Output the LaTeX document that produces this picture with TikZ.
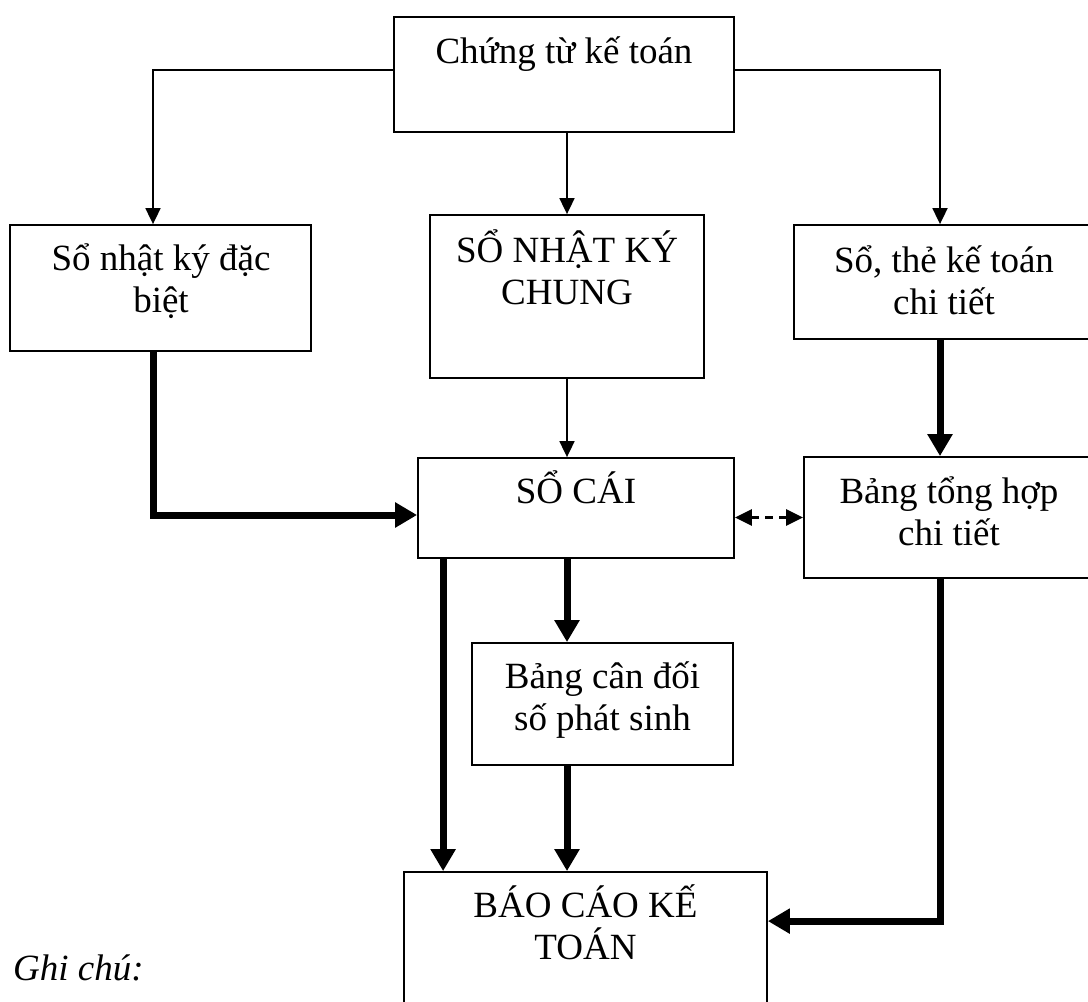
\documentclass[tikz,border=0pt]{standalone}
\usepackage{fontspec}
\setmainfont{Liberation Serif}
\usetikzlibrary{arrows.meta,calc}
\begin{document}
\begin{tikzpicture}[x=1pt,y=-1pt,
  box/.style={draw, line width=1.8pt, inner sep=0pt},
  txt/.style={anchor=base, inner sep=0pt, text width=330pt, align=flush center,
              font=\fontsize{37}{42}\selectfont},
  thinarrow/.style={line width=1.8pt, -{Triangle[length=16pt,width=15pt]}},
  heavyarrow/.style={line width=7pt, -{Triangle[length=22pt,width=24pt]}},
  duplex/.style={line width=2.6pt, dash pattern=on 8pt off 6pt,
                 {Triangle[length=17pt,width=16pt]}-{Triangle[length=17pt,width=16pt]}}
]
\useasboundingbox (0,0) rectangle (1088,1002);
\clip (0,0) rectangle (1088,1002);

% boxes
\node[box, minimum width=340pt, minimum height=115pt] (top)   at (564,74.5) {};
\node[box, minimum width=301pt, minimum height=126pt] (lsk)   at (160.5,288) {};
\node[box, minimum width=274pt, minimum height=163pt] (nkc)   at (567,296.5) {};
\node[box, minimum width=300pt, minimum height=114pt] (stk)   at (944,282) {};
\node[box, minimum width=290pt, minimum height=121pt] (bth)   at (949,517.5) {};
\node[box, minimum width=316pt, minimum height=100pt] (socai) at (576,508) {};
\node[box, minimum width=261pt, minimum height=122pt] (bcd)   at (602.5,704) {};
\node[box, minimum width=363pt, minimum height=150pt] (bc)    at (585.5,947) {};

% texts
\node[txt] (tTop)   at (564,63)    {Chứng từ kế toán};
\node[txt] (tLsk)   at (161,270)   {Sổ nhật ký đặc\\biệt};
\node[txt] (tNkc)   at (567,262)   {SỔ NHẬT KÝ\\CHUNG};
\node[txt] (tStk)   at (944,272)   {Sổ, thẻ kế toán\\chi tiết};
\node[txt] (tSocai) at (576,503)   {SỔ CÁI};
\node[txt] (tBth)   at (949,503)   {Bảng tổng hợp\\chi tiết};
\node[txt] (tBcd)   at (602.5,688) {Bảng cân đối\\số phát sinh};
\node[txt] (tBc)    at (585.5,917) {BÁO CÁO KẾ\\TOÁN};
\node[anchor=base west, inner sep=0pt, font=\fontsize{37}{42}\selectfont\itshape]
  (note) at (13,980) {Ghi chú:};

% helper points
\coordinate (lskOut) at ([xshift=-7.5pt]lsk.south);
\coordinate (lskIn)  at ([xshift=-7.5pt]lsk.north);
\coordinate (topL)   at ([yshift=4.5pt]top.west);
\coordinate (topR)   at ([yshift=4.5pt]top.east);
\coordinate (stkIn)  at ([xshift=-4pt]stk.north);
\coordinate (stkOut) at ([xshift=-4pt]stk.south);
\coordinate (scIn)   at ([yshift=-7pt]socai.west);
\coordinate (scL)    at ([xshift=26pt]socai.south west);
\coordinate (bcdIn)  at (nkc.south |- bcd.north);
\coordinate (bcdOut) at (nkc.south |- bcd.south);
\coordinate (bcIn)   at ([yshift=-50pt]bc.north east);
\coordinate (bthOut) at (stkOut |- bth.south);

% thin connectors
\draw[thinarrow] (topL) -| (lskIn);
\draw[thinarrow] (topR) -| (stkIn);
\draw[thinarrow] (top.south -| nkc.north) -- (nkc.north);
\draw[thinarrow] (nkc.south) -- (nkc.south |- socai.north);

% heavy connectors
\draw[heavyarrow] (lskOut) |- (scIn);
\draw[heavyarrow] (stkOut) -- (stkOut |- bth.north);
\draw[heavyarrow] (scL) -- (scL |- bc.north);
\draw[heavyarrow] (socai.south -| bcdIn) -- (bcdIn);
\draw[heavyarrow] (bcdOut) -- (bcdOut |- bc.north);
\draw[heavyarrow] (bthOut) |- (bcIn);

% two-way link
\draw[duplex] (socai.east |- bth.west) -- (bth.west);
\end{tikzpicture}
\end{document}
